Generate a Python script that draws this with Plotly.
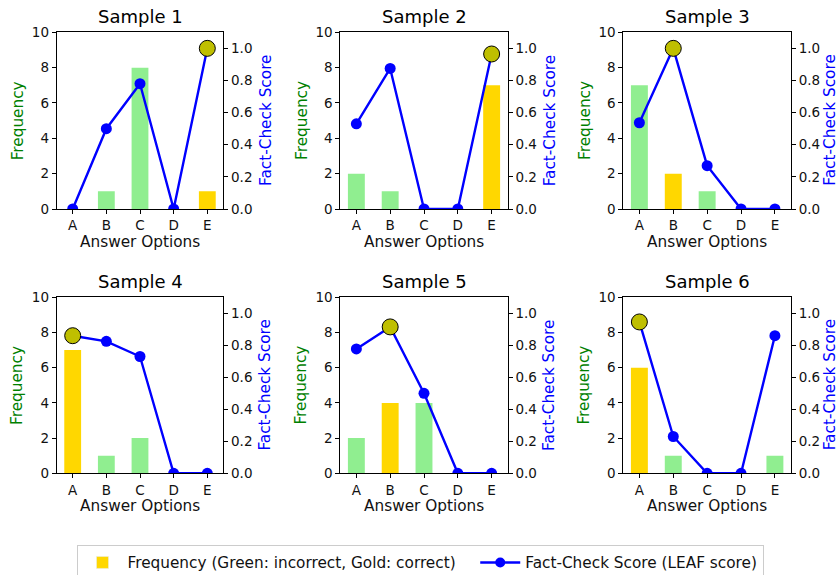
import plotly.graph_objects as go
from plotly.subplots import make_subplots

options = ["A", "B", "C", "D", "E"]
sample_titles = ["Sample 1", "Sample 2", "Sample 3", "Sample 4", "Sample 5", "Sample 6"]
frequencies = [
    [0, 1, 8, 0, 1],
    [2, 1, 0, 0, 7],
    [7, 2, 1, 0, 0],
    [7, 1, 2, 0, 0],
    [2, 4, 4, 0, 0],
    [6, 1, 0, 0, 1],
]
correct_option = ["E", "E", "B", "A", "B", "A"]
scores = [
    [0.0, 0.50, 0.78, 0.0, 1.0],
    [0.53, 0.875, 0.0, 0.0, 0.965],
    [0.537, 1.0, 0.27, 0.0, 0.0],
    [0.86, 0.825, 0.73, 0.0, 0.0],
    [0.777, 0.915, 0.50, 0.0, 0.0],
    [0.946, 0.23, 0.0, 0.0, 0.86],
]

GREEN = "#90EE90"
GOLD = "#FFD700"
BLUE = "#0000FF"
FONT = "DejaVu Sans"

fig = make_subplots(rows=2, cols=3, specs=[[{"secondary_y": True}] * 3] * 2)

W, H = 840, 575
xdom = [(56.7, 223.3), (340.3, 507.7), (623.3, 791.0)]
ydom = [(32.3, 209.0), (297.3, 473.3)]

for i in range(6):
    r, c = i // 3 + 1, i % 3 + 1
    colors = [GOLD if o == correct_option[i] else GREEN for o in options]
    fig.add_trace(go.Bar(x=options, y=frequencies[i], marker=dict(color=colors, line=dict(width=0)),
                         width=0.5, name="Frequency (Green: incorrect, Gold: correct)",
                         showlegend=False), row=r, col=c, secondary_y=False)
    fig.add_trace(go.Scatter(x=options, y=scores[i], mode="lines+markers",
                             line=dict(color=BLUE, width=2.4), marker=dict(color=BLUE, size=11),
                             name="Fact-Check Score (LEAF score)", showlegend=False),
                  row=r, col=c, secondary_y=True)
    s = scores[i]
    k = s.index(max(s))
    fig.add_trace(go.Scatter(x=[options[k]], y=[s[k]], mode="markers",
                             marker=dict(color="#BFBF00", size=16, line=dict(color="black", width=1)),
                             showlegend=False, hoverinfo="skip"),
                  row=r, col=c, secondary_y=True)

# legend-only traces
fig.add_trace(go.Bar(x=[None], y=[None], marker=dict(color=GOLD),
                     name="Frequency (Green: incorrect, Gold: correct)\u00a0\u00a0\u00a0",
                     showlegend=True))
fig.add_trace(go.Scatter(x=[None], y=[None], mode="lines+markers", line=dict(color=BLUE, width=2.4),
                         marker=dict(color=BLUE, size=10), name="Fact-Check Score (LEAF score)",
                         showlegend=True))

axis_common = dict(showgrid=False, zeroline=False, showline=True, linecolor="black", linewidth=1,
                   ticks="outside", ticklen=4, tickcolor="black",
                   tickfont=dict(size=13.5, family=FONT, color="#111"))

TF = 15.3
for i in range(6):
    r, c = i // 3, i % 3
    n = i + 1
    xd = [xdom[c][0] / W, xdom[c][1] / W]
    yd = [1 - ydom[r][1] / H, 1 - ydom[r][0] / H]
    xa = "xaxis" if n == 1 else f"xaxis{n}"
    ya1 = f"yaxis{2 * n - 1}" if n > 1 else "yaxis"
    ya2 = f"yaxis{2 * n}"
    fig.layout[xa].update(domain=xd, mirror=True, range=[-0.475, 4.475], **axis_common)
    fig.layout[ya1].update(domain=yd, range=[0, 10], dtick=2, tickformat="d", **axis_common)
    fig.layout[ya2].update(domain=yd, range=[0, 1.1], tickvals=[0, 0.2, 0.4, 0.6, 0.8, 1.0],
                           ticktext=["0.0", "0.2", "0.4", "0.6", "0.8", "1.0"], **axis_common)
    cx = (xd[0] + xd[1]) / 2
    cy = 1 - (ydom[r][0] + ydom[r][1]) / 2 / H
    fig.add_annotation(text=sample_titles[i], x=cx, y=1 - (ydom[r][0] - 3) / H,
                       xref="paper", yref="paper", xanchor="center", yanchor="bottom", showarrow=False,
                       font=dict(size=18, family=FONT, color="black"))
    fig.add_annotation(text="Answer Options", x=cx, y=1 - (ydom[r][1] + 33) / H,
                       xref="paper", yref="paper", xanchor="center", yanchor="middle", showarrow=False,
                       font=dict(size=TF, family=FONT, color="#111"))
    fig.add_annotation(text="Frequency", x=(xdom[c][0] - 39) / W, y=cy,
                       xref="paper", yref="paper", xanchor="center", yanchor="middle", showarrow=False,
                       textangle=-90, font=dict(size=TF, family=FONT, color="green"))
    fx = min(xdom[c][1] + 42, 830)
    fig.add_annotation(text="Fact-Check Score", x=fx / W, y=cy,
                       xref="paper", yref="paper", xanchor="center", yanchor="middle", showarrow=False,
                       textangle=-90, font=dict(size=TF, family=FONT, color="blue"))

fig.update_layout(
    width=W, height=H, margin=dict(l=0, r=0, t=0, b=0, autoexpand=False),
    plot_bgcolor="white", paper_bgcolor="white",
    font=dict(family=FONT),
    bargap=0.5,
    legend=dict(orientation="h", x=0.5, xanchor="center", y=1 - 545 / H, yanchor="top",
                bordercolor="#cccccc", borderwidth=1, font=dict(size=TF, family=FONT, color="#111"),
                itemwidth=40, traceorder="normal"),
)

fig.write_html("out.html", config={"displayModeBar": False},
               post_script="document.body.style.margin='0';document.body.style.overflow='hidden';")
